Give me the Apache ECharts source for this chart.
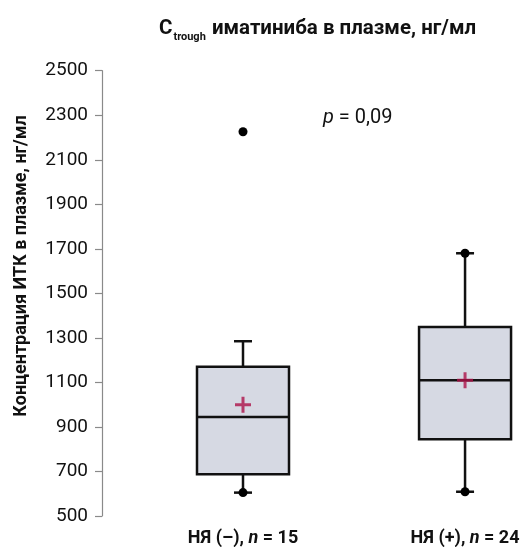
<!DOCTYPE html>
<html>
<head>
<meta charset="utf-8">
<script src="https://cdn.jsdelivr.net/npm/echarts@6/dist/echarts.min.js"></script>
<style>
  html, body { margin: 0; padding: 0; background: #fff; }
  #chart { width: 529px; height: 547px; }
</style>
</head>
<body>
<div id="chart"></div>
<script>
// ---- Data ----
const categories = ['НЯ (–)', 'НЯ (+)'];
const groupN = [15, 24];
const whiskerLow = [605, 609];
const q1 = [688, 845];
const medians = [945, 1110];
const q3 = [1170, 1349];
const whiskerHigh = [1285, 1680];
const means = [1000, 1110];
const outliers = [[0, 2226]];
const endPoints = [[0, 605], [1, 609], [1, 1680]];
const yMin = 500, yMax = 2500, yStep = 200;

// ---- Build ----
const FONT = 'Roboto';
const boxData = categories.map((c, i) => [i, whiskerLow[i], q1[i], medians[i], q3[i], whiskerHigh[i]]);
const meanData = categories.map((c, i) => [i, means[i]]);

const chart = echarts.init(document.getElementById('chart'), null, { renderer: 'canvas' });

function renderBox(params, api) {
  const i = params.dataIndex;
  const x = api.value(0);
  const pLow = api.coord([x, api.value(1)]);
  const pQ1 = api.coord([x, api.value(2)]);
  const pMed = api.coord([x, api.value(3)]);
  const pQ3 = api.coord([x, api.value(4)]);
  const pHigh = api.coord([x, api.value(5)]);
  const pBase = api.coord([x, yMin]);
  const cx = pMed[0];
  const half = 46;
  const cap = 9;
  const st = { stroke: '#111', lineWidth: 2.5, fill: null };
  return {
    type: 'group',
    children: [
      { type: 'line', shape: { x1: cx, y1: pHigh[1], x2: cx, y2: pQ3[1] }, style: st },
      { type: 'line', shape: { x1: cx, y1: pQ1[1], x2: cx, y2: pLow[1] }, style: st },
      { type: 'line', shape: { x1: cx - cap, y1: pHigh[1], x2: cx + cap, y2: pHigh[1] }, style: st },
      { type: 'line', shape: { x1: cx - cap, y1: pLow[1], x2: cx + cap, y2: pLow[1] }, style: st },
      { type: 'rect', shape: { x: cx - half, y: pQ3[1], width: half * 2, height: pQ1[1] - pQ3[1] },
        style: { fill: '#d6d9e3', stroke: '#111', lineWidth: 2.5 } },
      { type: 'line', shape: { x1: cx - half, y1: pMed[1], x2: cx + half, y2: pMed[1] }, style: st },
      { type: 'text',
        style: {
          x: cx, y: pBase[1] + 22,
          text: `{b|${categories[i]}, }{i|n}{b| = ${groupN[i]}}`,
          align: 'center', verticalAlign: 'middle',
          rich: {
            b: { fontFamily: FONT, fontWeight: 'bold', fontSize: 18, fill: '#111' },
            i: { fontFamily: FONT, fontWeight: 'bold', fontStyle: 'italic', fontSize: 18, fill: '#111' }
          }
        } }
    ]
  };
}

const option = {
  animation: false,
  backgroundColor: '#fff',
  title: {
    left: 159,
    top: 14,
    padding: 0,
    text: '{c|C}{s|trough}{t| иматиниба в плазме, нг/мл}',
    textStyle: {
      rich: {
        c: { fontFamily: FONT, fontWeight: 'bold', fontSize: 20.5, color: '#111', lineHeight: 22, verticalAlign: 'middle' },
        s: { fontFamily: FONT, fontWeight: 'bold', fontSize: 11, color: '#111', padding: [18, 1, 0, 1] },
        t: { fontFamily: FONT, fontWeight: 'bold', fontSize: 20.5, color: '#111', lineHeight: 22, verticalAlign: 'middle' }
      }
    }
  },
  grid: { left: 102, right: 0, top: 70.7, bottom: 31 },
  xAxis: {
    type: 'value',
    min: -0.635,
    max: 1.288,
    show: false,
    axisLine: { onZero: false },
    splitLine: { show: false }
  },
  yAxis: {
    type: 'value',
    min: yMin,
    max: yMax,
    interval: yStep,
    axisLine: { show: true, onZero: false, lineStyle: { color: '#8a8a8a', width: 1.2 } },
    axisTick: { show: true, length: 7, lineStyle: { color: '#8a8a8a', width: 1.2 } },
    splitLine: { show: false },
    axisLabel: { margin: 14, fontFamily: FONT, fontSize: 19, color: '#111', formatter: (v) => String(v) }
  },
  graphic: [
    {
      type: 'text',
      x: 21, y: 266,
      rotation: Math.PI / 2,
      style: {
        text: 'Концентрация ИТК в плазме, нг/мл',
        fontFamily: FONT, fontWeight: 'bold', fontSize: 18, fill: '#111',
        align: 'center', verticalAlign: 'middle'
      }
    },
    {
      type: 'text',
      x: 323, y: 118,
      style: {
        text: '{i|p} = 0,09',
        verticalAlign: 'middle',
        rich: {
          i: { fontFamily: FONT, fontStyle: 'italic', fontSize: 20, fill: '#111' }
        },
        fontFamily: FONT, fontSize: 20, fill: '#111'
      }
    }
  ],
  series: [
    {
      type: 'custom',
      renderItem: renderBox,
      encode: { x: 0, y: [1, 2, 3, 4, 5] },
      data: boxData,
      clip: false,
      z: 2
    },
    {
      type: 'scatter',
      data: meanData,
      symbol: 'path://M6.5,0H9.5V6.5H16V9.5H9.5V16H6.5V9.5H0V6.5H6.5Z',
      symbolSize: 16,
      itemStyle: { color: '#ad1248' },
      z: 4
    },
    {
      type: 'scatter',
      data: endPoints.concat(outliers),
      symbol: 'circle',
      symbolSize: 9,
      itemStyle: { color: '#000', opacity: 1 },
      z: 5
    }
  ]
};
chart.setOption(option);
</script>
</body>
</html>
